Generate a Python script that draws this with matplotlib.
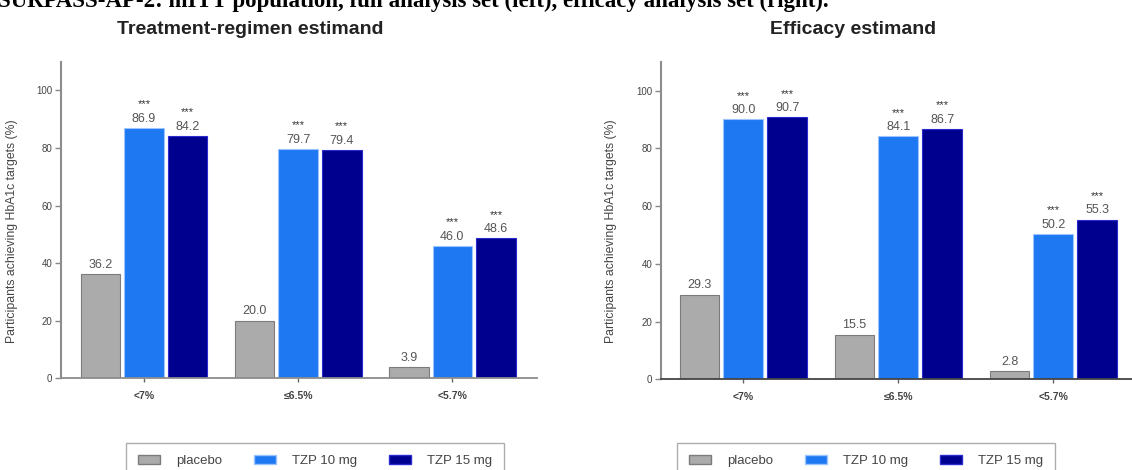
import matplotlib
matplotlib.use("Agg")
import matplotlib.pyplot as plt
from matplotlib.patches import Patch
import numpy as np

# data
categories = ["<7%", "≤6.5%", "<5.7%"]
groups = ["placebo", "TZP 10 mg", "TZP 15 mg"]
stars = ["", "***", "***"]

regimen_placebo = [36.2, 20.0, 3.9]
regimen_tzp10 = [86.9, 79.7, 46.0]
regimen_tzp15 = [84.2, 79.4, 48.6]

efficacy_placebo = [29.3, 15.5, 2.8]
efficacy_tzp10 = [90.0, 84.1, 50.2]
efficacy_tzp15 = [90.7, 86.7, 55.3]

face_colors = ["#ABABAB", "#1E78F2", "#00008E"]
edge_colors = ["#7C7C7C", "#9CC4FF", "#2A2AD0"]

plt.rcParams["font.family"] = ["Liberation Sans", "DejaVu Sans"]

W, H = 1132, 470
fig = plt.figure(figsize=(W / 100, H / 100), dpi=100)


def draw_panel(ax, series, xlim, spine_color):
    x = np.arange(len(categories))
    width, step = 0.257, 0.283
    for i, vals in enumerate(series):
        bars = ax.bar(x + (i - 1) * step, vals, width, color=face_colors[i],
                      edgecolor=edge_colors[i], linewidth=0.8, zorder=2)
        for b, v in zip(bars, vals):
            cx = b.get_x() + b.get_width() / 2
            ax.annotate(f"{v:.1f}", (cx, v), xytext=(0, 4.5), textcoords="offset points",
                        ha="center", va="baseline", fontsize=9, color="#555555")
            if stars[i]:
                ax.annotate(stars[i], (cx, v), xytext=(0, 15), textcoords="offset points",
                            ha="center", va="baseline", fontsize=8, color="#333333")
    ax.set_xlim(*xlim)
    ax.set_ylim(0, 110)
    ax.set_yticks(range(0, 101, 20))
    ax.set_xticks(x)
    ax.set_xticklabels(categories, fontsize=7.5, fontweight="bold", color="#444444")
    ax.tick_params(axis="y", labelsize=7, labelcolor="#444444", length=4, width=1,
                   color="#888888", pad=2)
    ax.tick_params(axis="x", length=3, width=1, color="#666666", pad=6)
    for s in ["top", "right"]:
        ax.spines[s].set_visible(False)
    ax.spines["left"].set_color("#8C8C8C")
    ax.spines["left"].set_linewidth(1.5)
    ax.spines["bottom"].set_color(spine_color)
    ax.spines["bottom"].set_linewidth(1.3)
    ax.set_ylabel("Participants achieving HbA1c targets (%)", fontsize=8.8, color="#444444")


ax1 = fig.add_axes([60.7 / W, 91.7 / H, 476 / W, 316.6 / H])
draw_panel(ax1, [regimen_placebo, regimen_tzp10, regimen_tzp15], (-0.54, 2.547), "#8C8C8C")
ax1.yaxis.set_label_coords((18 - 60.7) / 476, 0.465)

ax2 = fig.add_axes([660.7 / W, 90.7 / H, 477.9 / W, 317.6 / H])
draw_panel(ax2, [efficacy_placebo, efficacy_tzp10, efficacy_tzp15], (-0.533, 2.55), "#444444")
ax2.yaxis.set_label_coords((617 - 660.7) / 477.9, 0.465)

# panel titles and the caption above them (cut by the top edge, as in the source)
fig.text(250 / W, 1 - 30 / H, "Treatment-regimen estimand", ha="center", va="center",
         fontsize=14, fontweight="bold", color="#222222")
fig.text(853 / W, 1 - 30 / H, "Efficacy estimand", ha="center", va="center",
         fontsize=14, fontweight="bold", color="#222222")
fig.text(-2 / W, 1 - 7 / H,
         "SURPASS-AP-2: mITT population, full analysis set (left), efficacy analysis set (right).",
         ha="left", va="baseline", fontsize=16.5, fontweight="bold",
         family=["Liberation Serif", "DejaVu Serif"], color="black")

handles = [Patch(facecolor=face_colors[i], edgecolor=edge_colors[i], label=groups[i])
           for i in range(3)]
for x0 in (126, 677):
    leg = fig.legend(handles=handles, loc="upper left", bbox_to_anchor=(x0 / W, 1 - 443 / H),
                     ncol=3, frameon=True, fontsize=9.5, handlelength=1.7, handleheight=0.7,
                     handletextpad=1.2, columnspacing=2.4, borderpad=0.9, borderaxespad=0,
                     fancybox=False)
    leg.get_frame().set_edgecolor("#999999")
    leg.get_frame().set_linewidth(1)
    for t in leg.get_texts():
        t.set_color("#444444")

fig.savefig("out.png", dpi=100)
